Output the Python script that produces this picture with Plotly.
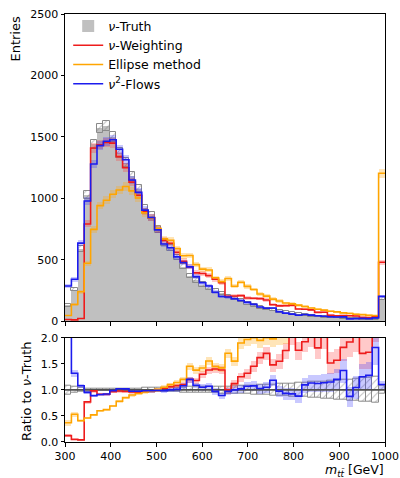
import numpy as np
import plotly.graph_objects as go
from plotly.subplots import make_subplots

# ---- binning (m_tt in GeV), last bin holds the overflow ----
bin_edges = list(range(300, 1001, 14))
x_ticks = [300, 400, 500, 600, 700, 800, 900, 1000]

# ---- bin contents ----
truth = [130, 260, 590, 1030, 1440, 1570, 1590, 1500, 1370, 1290,
         1180, 1080, 920, 860, 750, 640, 600, 520, 445, 370,
         335, 300, 270, 245, 228, 205, 185, 168, 145, 130,
         115, 103, 92, 82, 73, 65, 58, 52, 46, 41,
         37, 33, 30, 27, 24, 22, 20, 18, 16, 185]
nu_weighting = [16, 13, 24, 793, 1411, 1437, 1455, 1450, 1340, 1250,
                1133, 1026, 892, 843, 750, 659, 636, 562, 490, 444,
                395, 390, 373, 343, 315, 205, 207, 210, 191, 189,
                186, 175, 136, 127, 128, 133, 102, 100, 94, 74,
                75, 50, 47, 49, 46, 45, 34, 31, 37, 481]
ellipse = [48, 138, 242, 474, 749, 942, 986, 1035, 1069, 1097,
           1062, 1004, 883, 843, 758, 672, 660, 593, 534, 537,
           462, 426, 419, 355, 324, 349, 287, 319, 285, 260,
           224, 206, 182, 166, 150, 143, 133, 122, 110, 100,
           92, 83, 78, 70, 65, 59, 56, 50, 48, 1205]
nu2flows = [289, 343, 637, 980, 1280, 1430, 1465, 1478, 1400, 1315,
            1150, 1050, 905, 845, 745, 630, 600, 525, 480, 444,
            365, 315, 289, 238, 203, 199, 185, 171, 155, 140,
            118, 108, 109, 80, 68, 60, 51, 57, 52, 46,
            42, 38, 36, 37, 21, 23, 25, 23, 29, 204]

labels = ["<i>ν</i>-Truth", "<i>ν</i>-Weighting", "Ellipse method", "<i>ν</i><sup>2</sup>-Flows"]
line_colors = ["#ee1c1c", "#ffa500", "#1c1cee"]
band_colors = ["rgba(255,40,40,0.25)", "rgba(255,170,20,0.30)", "rgba(40,40,255,0.25)"]

edges = np.array(bin_edges, dtype=float)
centers = 0.5 * (edges[:-1] + edges[1:])
width = float(edges[1] - edges[0])
T = np.array(truth, dtype=float)
T_err = np.sqrt(T)

fig = make_subplots(rows=2, cols=1, shared_xaxes=True)

# truth filled histogram
fig.add_trace(go.Bar(x=centers, y=T, width=width, marker=dict(color="#c0c0c0", line=dict(width=0)),
                     name=labels[0], legendrank=1, showlegend=True), row=1, col=1)

hatch = dict(color="rgba(0,0,0,0)",
             pattern=dict(shape="/", fgcolor="#7a7a7a", bgcolor="rgba(0,0,0,0)", size=5,
                          solidity=0.2, fillmode="overlay"),
             line=dict(color="#8a8a8a", width=1))
# truth uncertainty boxes
fig.add_trace(go.Bar(x=centers, y=2 * T_err, base=T - T_err, width=width, marker=hatch,
                     showlegend=False, hoverinfo="skip"), row=1, col=1)
fig.add_trace(go.Bar(x=centers, y=2 * T_err / T, base=1 - T_err / T, width=width, marker=hatch,
                     showlegend=False, hoverinfo="skip"), row=2, col=1)
fig.add_trace(go.Scatter(x=[edges[0], edges[-1]], y=[1, 1], mode="lines",
                         line=dict(color="#505050", width=1.6), showlegend=False, hoverinfo="skip"),
              row=2, col=1)

series = [nu_weighting, ellipse, nu2flows]
for i, vals in enumerate(series):
    v = np.array(vals, dtype=float)
    e = np.sqrt(v)
    fig.add_trace(go.Bar(x=centers, y=2 * e, base=v - e, width=width,
                         marker=dict(color=band_colors[i], line=dict(width=0)),
                         showlegend=False, hoverinfo="skip"), row=1, col=1)
    r = v / T
    re = e / T
    fig.add_trace(go.Bar(x=centers, y=2 * re, base=r - re, width=width,
                         marker=dict(color=band_colors[i], line=dict(width=0)),
                         showlegend=False, hoverinfo="skip"), row=2, col=1)

for i, vals in enumerate(series):
    v = np.array(vals, dtype=float)
    fig.add_trace(go.Scatter(x=edges, y=np.append(v, v[-1]), mode="lines", line_shape="hv",
                             line=dict(color=line_colors[i], width=1.6),
                             name=labels[i + 1], legendrank=i + 2), row=1, col=1)
    r = v / T
    fig.add_trace(go.Scatter(x=edges, y=np.append(r, r[-1]), mode="lines", line_shape="hv",
                             line=dict(color=line_colors[i], width=1.6),
                             showlegend=False, hoverinfo="skip"), row=2, col=1)

axis_style = dict(showline=True, mirror=True, linecolor="black", linewidth=1, ticks="outside",
                  ticklen=3.5, tickwidth=1, tickcolor="black", showgrid=False, zeroline=False,
                  tickfont=dict(size=11, color="black"), automargin=False)

fig.update_xaxes(range=[300, 1000], tickmode="array", tickvals=x_ticks,
                 ticktext=[str(t) for t in x_ticks], ticklabeloverflow="allow", **axis_style)
fig.update_xaxes(showticklabels=False, row=1, col=1)
fig.update_yaxes(**axis_style)
fig.update_yaxes(range=[0, 2500], dtick=500, domain=[0.2816, 1.0], row=1, col=1)
fig.update_yaxes(range=[0, 2], tickvals=[0, 0.5, 1, 1.5, 2],
                 ticktext=["0.0", "0.5", "1.0", "1.5", "2.0"], domain=[0.0, 0.2437], row=2, col=1)

fig.update_layout(
    width=400, height=478,
    margin=dict(l=65, r=15, t=14, b=36, autoexpand=False),
    paper_bgcolor="white", plot_bgcolor="white",
    barmode="overlay", bargap=0,
    font=dict(family="DejaVu Sans", size=12, color="black"),
    legend=dict(x=0.01, y=1.006, xanchor="left", yanchor="top", bgcolor="rgba(0,0,0,0)",
                font=dict(size=12.5), itemwidth=30, tracegroupgap=0),
    annotations=[
        dict(text="Entries", xref="paper", yref="paper", x=-0.155, y=1.002, xanchor="center",
             yanchor="top", textangle=-90, showarrow=False, font=dict(size=13)),
        dict(text="Ratio to <i>ν</i>-Truth", xref="paper", yref="paper", x=-0.122, y=0.119,
             xanchor="center", yanchor="middle", textangle=-90, showarrow=False, font=dict(size=13)),
        dict(text="<i>m</i><sub><i>tt\u0304</i></sub> [GeV]", xref="paper", yref="paper", x=1.0,
             y=-0.0885, xanchor="right", yanchor="bottom", showarrow=False, font=dict(size=12.5),
             borderpad=0),
    ],
)

fig.write_html("out.html")
